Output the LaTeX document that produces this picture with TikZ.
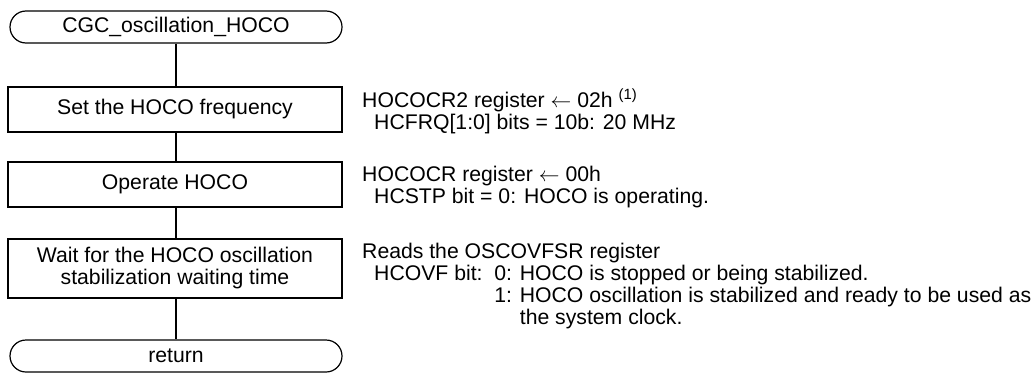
\documentclass[tikz,border=0pt]{standalone}
\usepackage{fontspec}
\setmainfont{Liberation Sans}
\begin{document}
\begin{tikzpicture}[x=1pt,y=-1pt,
  every node/.style={font=\fontsize{21.2}{22}\selectfont, inner sep=0pt},
  term/.style={draw, line width=1.2pt, rounded corners=16pt, minimum width=332pt, minimum height=32pt},
  proc/.style={draw, line width=1.2pt, minimum width=334pt, align=center},
  note/.style={anchor=base west},
  conn/.style={line width=1.2pt}]
\useasboundingbox (0,0) rectangle (1033,380);
\node[term] (start) at (176,27) {CGC\_oscillation\_HOCO};
\node[proc, minimum height=45pt] (b1) at (175,109.5) {Set the HOCO frequency};
\node[proc, minimum height=45pt] (b2) at (175,184.5) {Operate HOCO};
\node[proc, minimum height=59pt] (b3) at (175,268.5) {Wait for the HOCO oscillation\\stabilization waiting time};
\node[term] (ret) at (176,356) {return};
\draw[conn] (start.south) -- (start.south |- b1.north);
\draw[conn] (start.south |- b1.south) -- (start.south |- b2.north);
\draw[conn] (start.south |- b2.south) -- (start.south |- b3.north);
\draw[conn] (start.south |- b3.south) -- (ret.north);
\node[note] (n1) at (362,107) {\begin{tabular}[t]{@{}l@{}}
HOCOCR2 register $\leftarrow$ 02h \textsuperscript{(1)}\\
\hspace*{12pt}HCFRQ[1:0] bits = 10b: 20 MHz
\end{tabular}};
\node[note] (n2) at (362,181) {\begin{tabular}[t]{@{}l@{}}
HOCOCR register $\leftarrow$ 00h\\
\hspace*{12pt}HCSTP bit = 0: HOCO is operating.
\end{tabular}};
\node[note] (n3) at (362,258) {\begin{tabular}[t]{@{}l@{}}
Reads the OSCOVFSR register\\
\hspace*{12pt}HCOVF bit:\ \ 0: HOCO is stopped or being stabilized.\\
\hspace*{12pt}\phantom{HCOVF bit:\ \ }1: HOCO oscillation is stabilized and ready to be used as\\
\hspace*{12pt}\phantom{HCOVF bit:\ \ 1: }the system clock.
\end{tabular}};
\end{tikzpicture}
\end{document}
